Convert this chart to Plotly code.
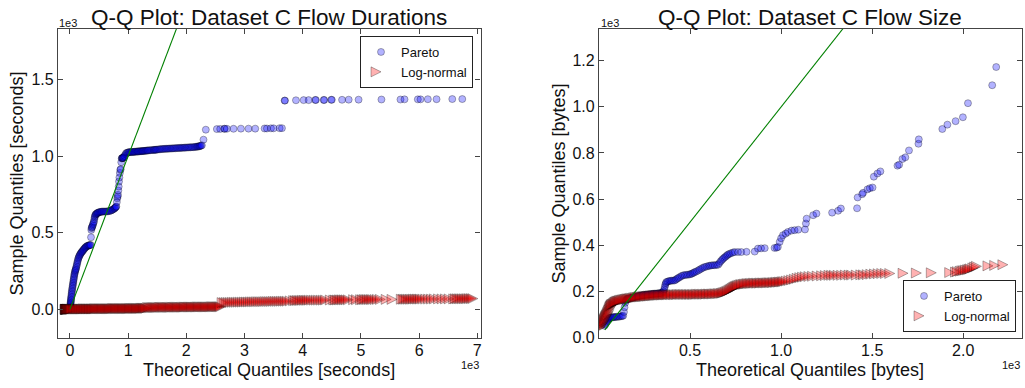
import plotly.graph_objects as go

# ---------------- data ----------------
# Left panel: Q-Q of flow durations, (theoretical quantile, sample quantile) in seconds
pareto_dur = [
    (1,2),(3,8),(5,15),(7,22),(9,30),(11,38),(13,45),(15,52),(17,60),(19,68),(21,76),(24,85),
    (27,95),(30,105),(33,115),(36,125),(40,135),(44,145),(48,155),(52,165),(56,175),(60,185),
    (64,195),(68,205),(72,215),(76,225),(80,233),(85,242),(90,250),(95,256),(100,262),
    (106,270),(112,280),(118,290),(124,300),(130,310),(136,320),(143,330),(150,338),(158,345),
    (166,352),(175,358),(184,364),(193,369),(202,374),(212,378),(222,383),(232,388),(242,393),
    (253,398),(264,403),(275,407),(286,410),(298,414),(310,415),(322,417),(334,418),(346,419),
    (356,420),(362,470),(367,518),(372,530),(378,535),(384,540),(391,548),(398,556),(405,565),
    (413,573),(419,588),(425,600),(431,608),(436,616),(445,620),(455,623),(465,626),(475,629),
    (485,631),(500,633),(515,635),(530,636),(545,637),(560,638),(580,638),(600,638),(620,638),
    (640,639),(660,640),(680,642),(700,644),(715,646),(730,650),(745,653),(760,657),(770,660),
    (780,664),(790,668),(797,671),(806,700),(814,725),(820,736),(826,747),(832,775),(838,801),
    (843,834),(850,860),(858,890),(866,910),(872,915),(882,960),(890,985),(895,986),(900,987),
    (906,987),(912,988),(920,990),(930,995),(941,1002),(955,1012),(969,1020),(985,1022),
    (1000,1024),(1015,1025),(1027,1026),(1045,1026),(1061,1026),(1075,1027),(1090,1027),
    (1105,1028),(1119,1028),(1135,1029),(1150,1029),(1163,1030),(1176,1030),(1190,1031),
    (1205,1031),(1220,1032),(1234,1032),(1248,1033),(1260,1033),(1275,1034),(1291,1034),
    (1305,1035),(1320,1036),(1334,1036),(1348,1037),(1368,1038),(1390,1038),(1412,1039),
    (1434,1040),(1448,1040),(1462,1041),(1477,1041),(1492,1042),(1513,1043),(1535,1044),
    (1556,1045),(1578,1046),(1600,1046),(1620,1047),(1642,1047),(1664,1048),(1685,1048),
    (1705,1049),(1728,1049),(1750,1050),(1770,1050),(1790,1051),(1813,1051),(1836,1052),
    (1858,1052),(1880,1053),(1900,1053),(1922,1054),(1943,1054),(1965,1055),(1986,1055),
    (2008,1056),(2030,1056),(2050,1057),(2072,1057),(2095,1058),(2118,1058),(2140,1059),
    (2160,1060),(2180,1061),(2195,1062),(2210,1063),(2225,1064),(2238,1066),(2252,1068),
    (2267,1070),(2295,1107),(2335,1172),(2525,1176),(2582,1177),(2651,1178),(2660,1178),
    (2697,1178),(2811,1178),(2938,1179),(3069,1179),(3184,1179),(3345,1180),(3385,1180),
    (3454,1181),(3500,1181),(3603,1182),(3643,1182),(3689,1362),(3695,1362),(3884,1364),
    (4016,1365),(4102,1365),(4217,1366),(4225,1366),(4360,1366),(4370,1366),(4490,1367),
    (4500,1367),(4676,1367),(4790,1368),(4960,1368),(5353,1369),(5680,1369),(5749,1370),
    (5978,1370),(6024,1370),(6150,1371),(6300,1371),(6570,1372),(6742,1372)]

lognorm_dur = [
    (2,0),(5,0),(8,0),(11,0),(14,0),(17,0),(20,0),(24,0),(28,0),(32,1),(36,1),(40,1),(45,1),
    (50,1),(55,1),(60,1),(66,1),(72,1),(78,1),(84,1),(90,1),(97,1),(104,1),(110,2),(122,2),
    (135,2),(148,2),(160,2),(172,2),(185,2),(198,2),(210,2),(222,2),(235,2),(248,2),(260,2),
    (272,2),(285,2),(298,2),(310,3),(322,3),(335,3),(348,3),(360,3),(372,3),(385,3),(398,3),
    (410,3),(422,3),(435,3),(448,3),(460,3),(472,3),(485,3),(498,3),(510,4),(525,4),(540,4),
    (555,4),(570,4),(585,4),(600,4),(615,4),(630,4),(645,4),(660,4),(675,4),(690,4),(705,4),
    (720,4),(735,4),(750,4),(765,4),(780,4),(795,4),(810,5),(825,5),(840,5),(855,5),(870,5),
    (885,5),(900,5),(915,5),(930,5),(945,5),(960,5),(975,5),(990,5),(1005,5),(1020,5),(1035,5),
    (1050,5),(1065,5),(1080,5),(1095,5),(1110,6),(1125,6),(1140,6),(1155,6),(1170,6),(1185,6),
    (1200,6),(1215,6),(1230,6),(1245,6),(1260,6),(1275,6),(1290,6),(1305,7),(1320,7),(1335,7),
    (1350,7),(1365,7),(1380,7),(1395,7),(1415,11),(1435,11),(1455,11),(1475,12),(1495,12),
    (1515,12),(1535,12),(1555,12),(1575,12),(1595,12),(1615,13),(1635,13),(1655,13),(1675,13),
    (1695,13),(1715,13),(1735,13),(1755,13),(1775,13),(1795,13),(1815,13),(1835,14),(1855,14),
    (1875,14),(1895,14),(1915,14),(1935,14),(1955,14),(1975,14),(1995,14),(2015,14),(2035,14),
    (2055,15),(2075,15),(2095,15),(2115,15),(2135,15),(2155,15),(2175,15),(2195,15),(2215,15),
    (2235,15),(2255,15),(2275,16),(2295,16),(2315,16),(2335,16),(2355,16),(2375,16),(2395,16),
    (2415,16),(2435,16),(2455,16),(2475,16),(2495,16),(2515,17),(2535,17),(2555,17),(2575,17),
    (2595,17),(2615,17),(2635,17),(2655,17),(2675,17),(2700,44),(2735,44),(2770,45),(2805,45),
    (2840,45),(2875,46),(2910,46),(2945,46),(2980,47),(3015,47),(3050,47),(3085,48),(3120,48),
    (3155,48),(3190,49),(3225,49),(3260,49),(3295,50),(3330,50),(3365,50),(3400,50),(3435,51),
    (3470,51),(3505,51),(3540,51),(3575,52),(3610,52),(3645,52),(3680,52),(3715,53),(3750,53),
    (3785,53),(3820,53),(3870,55),(3930,57),(3960,57),(3990,58),(4020,58),(4050,58),(4080,59),
    (4110,59),(4140,59),(4170,59),(4200,60),(4240,60),(4280,60),(4320,60),(4360,60),(4400,60),
    (4440,60),(4480,61),(4560,61),(4620,61),(4650,61),(4680,61),(4710,62),(4740,62),(4770,62),
    (4800,62),(4830,62),(4870,62),(4960,63),(5010,63),(5080,63),(5110,63),(5140,64),(5170,64),
    (5200,64),(5230,64),(5260,64),(5290,64),(5330,64),(5370,65),(5420,65),(5520,65),(5620,65),
    (5780,66),(5810,66),(5840,66),(5870,66),(5900,66),(5930,66),(5960,66),(5990,67),(6020,67),
    (6050,67),(6080,67),(6110,67),(6150,67),(6200,67),(6250,67),(6300,67),(6350,68),(6420,68),
    (6480,68),(6540,68),(6600,68),(6680,68),(6710,69),(6740,69),(6770,69),(6800,69),(6830,69),
    (6860,69),(6890,69),(6920,70),(6950,70),(6980,70),(7010,70)]

# Right panel: Q-Q of flow sizes, in bytes
pareto_size = [
    (30,50),(34,56),(38,62),(42,68),(46,74),(50,78),(55,82),(60,84),(66,86),(72,87),(78,87),
    (84,88),(90,88),(97,89),(105,89),(112,90),(120,91),(127,92),(133,94),(137,110),(140,130),
    (144,150),(148,160),(154,165),(160,168),(168,170),(176,171),(184,173),(192,174),(200,176),
    (208,177),(216,179),(224,180),(232,182),(240,183),(248,184),(256,185),(264,186),(272,186),
    (280,187),(288,188),(296,189),(304,189),(312,190),(320,190),(328,191),(336,192),(344,193),
    (350,196),(355,200),(358,208),(361,218),(364,228),(367,235),(370,240),(377,242),(385,244),
    (392,245),(400,246),(408,246),(416,247),(423,251),(430,255),(437,258),(445,262),(453,266),
    (462,269),(471,270),(480,271),(489,272),(498,273),(505,275),(512,277),(519,280),(526,283),
    (535,286),(545,290),(553,294),(562,298),(571,302),(580,305),(590,307),(600,309),(608,311),
    (617,312),(626,313),(635,313),(645,314),(654,315),(661,322),(668,330),(675,336),(681,341),
    (688,346),(695,350),(702,355),(708,359),(716,362),(725,365),(735,368),(745,370),(763,370),
    (781,370),(810,371),(855,372),(873,385),(890,386),(910,387),(964,388),(975,389),(982,392),
    (992,414),(1000,430),(1010,443),(1025,450),(1037,457),(1057,463),(1074,465),(1094,467),
    (1131,468),(1136,494),(1140,515),(1176,530),(1194,537),(1280,541),(1313,549),(1328,559),
    (1417,560),(1420,607),(1445,621),(1450,627),(1474,642),(1487,647),(1502,650),(1509,697),
    (1529,711),(1545,720),(1639,745),(1648,749),(1666,774),(1682,781),(1702,811),(1754,840),
    (1756,859),(1885,904),(1913,923),(1958,938),(1998,955),(2026,1016),(2159,1094),(2181,1173)]

lognorm_size = [
    (30,42),(33,46),(36,50),(39,54),(42,58),(45,62),(48,66),(51,70),(54,74),(57,79),(60,84),
    (63,89),(66,93),(69,97),(72,102),(75,107),(78,112),(81,118),(84,124),(87,130),(90,135),
    (93,138),(96,141),(100,143),(104,145),(108,147),(112,150),(116,152),(120,154),(125,156),
    (130,157),(135,158),(140,160),(146,161),(152,162),(158,163),(164,164),(170,165),(176,166),
    (182,167),(188,167),(194,168),(200,169),(207,170),(214,171),(221,172),(228,173),(235,174),
    (242,175),(249,175),(256,176),(263,176),(270,177),(277,177),(284,178),(291,178),(298,179),
    (305,179),(312,180),(319,180),(326,181),(333,181),(340,182),(347,182),(354,183),(361,183),
    (368,183),(375,184),(382,184),(389,184),(396,184),(403,185),(410,185),(418,185),(426,185),
    (434,185),(442,185),(450,185),(458,186),(466,186),(474,186),(482,186),(490,186),(498,186),
    (506,186),(514,186),(522,186),(530,186),(538,186),(546,186),(554,186),(562,187),(570,187),
    (578,187),(586,187),(594,187),(602,187),(610,187),(618,188),(626,188),(634,188),(642,188),
    (650,188),(658,189),(666,189),(674,189),(682,190),(690,190),(698,191),(705,192),(712,194),
    (719,196),(726,198),(733,200),(740,203),(746,206),(752,209),(758,212),(764,215),(770,218),
    (776,220),(782,222),(788,224),(795,226),(802,228),(810,229),(818,230),(826,231),(834,232),
    (842,233),(850,233),(858,234),(866,234),(874,235),(882,235),(890,235),(898,235),(906,235),
    (914,236),(922,236),(930,236),(938,236),(946,236),(954,237),(962,237),(970,237),(978,237),
    (986,238),(994,238),(1002,239),(1010,239),(1018,240),(1026,240),(1034,241),(1042,242),
    (1055,244),(1070,246),(1085,249),(1100,252),(1115,256),(1130,259),(1145,261),(1160,263),
    (1180,264),(1200,265),(1225,266),(1250,267),(1270,268),(1290,269),(1305,269),(1320,269),
    (1340,269),(1360,269),(1380,270),(1400,270),(1415,270),(1440,270),(1465,271),(1480,271),
    (1500,272),(1520,274),(1540,275),(1560,276),(1580,277),(1600,277),(1624,277),(1697,278),
    (1770,279),(1852,280),(1953,281),(1985,283),(1995,285),(2010,287),(2020,289),(2030,290),
    (2040,292),(2050,293),(2058,295),(2065,297),(2080,301),(2090,305),(2100,308),(2163,310),
    (2200,312),(2245,315)]

# y = x reference lines (start / end of each fit line)
ref_line_dur = [0, 7000]
ref_line_size = [32, 2300]

# ticks
dur_x_ticks = [0, 1000, 2000, 3000, 4000, 5000, 6000, 7000]
dur_x_labels = ["0", "1", "2", "3", "4", "5", "6", "7"]
dur_y_ticks = [0, 500, 1000, 1500]
dur_y_labels = ["0.0", "0.5", "1.0", "1.5"]
size_x_ticks = [500, 1000, 1500, 2000]
size_x_labels = ["0.5", "1.0", "1.5", "2.0"]
size_y_ticks = [0, 200, 400, 600, 800, 1000, 1200]
size_y_labels = ["0.0", "0.2", "0.4", "0.6", "0.8", "1.0", "1.2"]

# ---------------- figure ----------------
FONT = "Liberation Sans, Arial, sans-serif"
W, H = 1025, 388
L_DOM = [58 / W, 480.5 / W]
R_DOM = [599 / W, 1021.7 / W]
Y_DOM = [(H - 338) / H, (H - 29) / H]

pareto_marker = dict(symbol="circle", size=7, color="rgba(0,0,255,0.3)",
                     line=dict(color="rgba(0,0,0,0.3)", width=1))
lognorm_marker = dict(symbol="arrow-right", size=10, color="rgba(255,0,0,0.3)",
                      line=dict(color="rgba(0,0,0,0.3)", width=1))

fig = go.Figure()


def add_panel(pareto, lognorm, ref, xa, ya, legend):
    fig.add_trace(go.Scatter(x=[p[0] for p in pareto], y=[p[1] for p in pareto],
                             mode="markers", marker=pareto_marker, name="Pareto",
                             xaxis=xa, yaxis=ya, legend=legend))
    fig.add_trace(go.Scatter(x=[p[0] for p in lognorm], y=[p[1] for p in lognorm],
                             mode="markers", marker=lognorm_marker, name="Log-normal",
                             xaxis=xa, yaxis=ya, legend=legend))
    fig.add_trace(go.Scatter(x=ref, y=ref, mode="lines",
                             line=dict(color="green", width=1.1), showlegend=False,
                             xaxis=xa, yaxis=ya))


add_panel(pareto_dur, lognorm_dur, ref_line_dur, "x", "y", "legend")
add_panel(pareto_size, lognorm_size, ref_line_size, "x2", "y2", "legend2")

axis_style = dict(showgrid=False, zeroline=False, showline=True, mirror="ticks",
                  automargin=False,
                  linecolor="#444", linewidth=1.3, ticks="inside", ticklen=5,
                  tickcolor="#444", tickwidth=1,
                  tickfont=dict(family=FONT, size=16, color="#111"))

fig.update_layout(
    width=W, height=H,
    margin=dict(l=0, r=0, t=0, b=0, pad=0, autoexpand=False),
    paper_bgcolor="white", plot_bgcolor="white",
    font=dict(family=FONT, color="#111"),
    xaxis=dict(domain=L_DOM, range=[-205, 7055], tickvals=dur_x_ticks,
               ticktext=dur_x_labels, anchor="y", ticklabelstandoff=-2, **axis_style),
    yaxis=dict(domain=Y_DOM, range=[-187, 1829], tickvals=dur_y_ticks,
               ticktext=dur_y_labels, anchor="x", **axis_style),
    xaxis2=dict(domain=R_DOM, range=[0, 2321], tickvals=size_x_ticks,
                ticktext=size_x_labels, anchor="y2", ticklabelstandoff=-2, **axis_style),
    yaxis2=dict(domain=Y_DOM, range=[-3, 1338], tickvals=size_y_ticks,
                ticktext=size_y_labels, anchor="x2", **axis_style),
    legend=dict(x=473 / W, y=(H - 36) / H, xanchor="right", yanchor="top",
                bgcolor="white", bordercolor="#222", borderwidth=1,
                font=dict(family=FONT, size=13, color="#111")),
    legend2=dict(x=1016 / W, y=(H - 332) / H, xanchor="right", yanchor="bottom",
                 bgcolor="white", bordercolor="#222", borderwidth=1,
                 font=dict(family=FONT, size=13, color="#111")),
)

ann = []
lc = (L_DOM[0] + L_DOM[1]) / 2
rc = (R_DOM[0] + R_DOM[1]) / 2
ymid = (Y_DOM[0] + Y_DOM[1]) / 2
ann.append(dict(text="Q-Q Plot: Dataset C Flow Durations", x=lc, y=(H - 18) / H,
                font=dict(size=22.5)))
ann.append(dict(text="Q-Q Plot: Dataset C Flow Size", x=rc, y=(H - 18) / H,
                font=dict(size=22.5)))
ann.append(dict(text="Theoretical Quantiles [seconds]", x=lc, y=(H - 370) / H,
                font=dict(size=18)))
ann.append(dict(text="Theoretical Quantiles [bytes]", x=rc, y=(H - 370) / H,
                font=dict(size=18)))
ann.append(dict(text="Sample Quantiles [seconds]", x=16 / W, y=ymid, textangle=-90,
                font=dict(size=18)))
ann.append(dict(text="Sample Quantiles [bytes]", x=558 / W, y=ymid, textangle=-90,
                font=dict(size=18)))
for xl in [57 / W, 599 / W]:
    ann.append(dict(text="1e3", x=xl, y=(H - 23) / H, xanchor="left", font=dict(size=11)))
for xr in [480.5 / W, 1021.7 / W]:
    ann.append(dict(text="1e3", x=xr, y=(H - 365) / H, xanchor="right", font=dict(size=11)))

for a in ann:
    a.setdefault("xanchor", "center")
    a.update(xref="paper", yref="paper", yanchor="middle", showarrow=False)
    a["font"].update(family=FONT, color="#111")
fig.update_layout(annotations=ann)

# remove the browser's default 8px body margin so the figure sits at (0, 0)
fig.write_html("out.html", config={"displayModeBar": False},
               post_script="document.body.style.margin='0px';document.body.style.padding='0px';")
